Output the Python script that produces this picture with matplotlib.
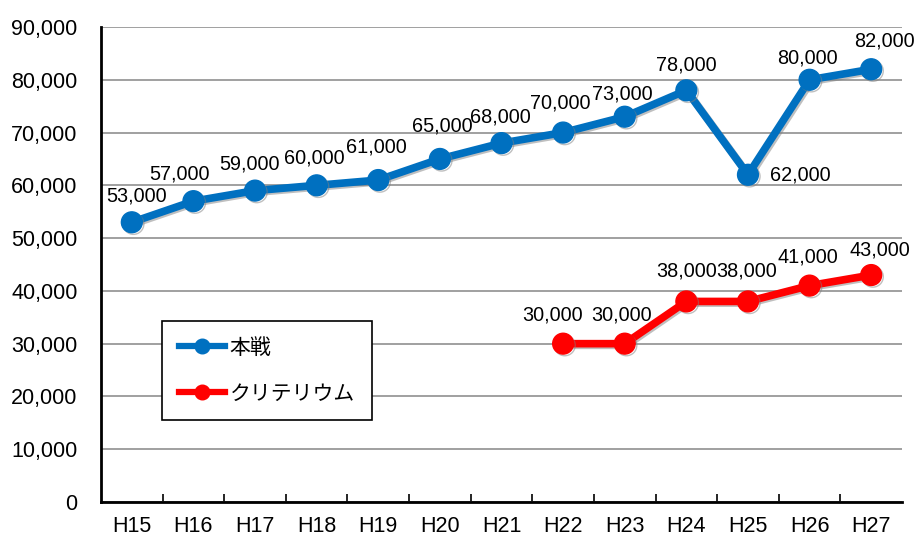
import matplotlib.pyplot as plt
import matplotlib.patheffects as pe
from matplotlib.ticker import FuncFormatter, MultipleLocator

# データ
years = ["H15", "H16", "H17", "H18", "H19", "H20", "H21", "H22", "H23", "H24", "H25", "H26", "H27"]
honsen = [53000, 57000, 59000, 60000, 61000, 65000, 68000, 70000, 73000, 78000, 62000, 80000, 82000]
crit_years = ["H22", "H23", "H24", "H25", "H26", "H27"]
criterium = [30000, 30000, 38000, 38000, 41000, 43000]

# ラベル位置 (pixels)
off_honsen = [(5, 26), (-14, 27), (-6, 27), (-2, 27), (-2, 33), (2, 33), (-1, 26),
              (-3, 30), (-2, 23), (0, 25), (52, 0), (-2, 22), (13, 28)]
off_crit = [(-11, 29), (-3, 29), (0, 30), (-1, 30), (-2, 29), (9, 25)]

blue = "#0070C0"
red = "#FF0000"

plt.rcParams['font.family'] = ['Liberation Sans', 'Noto Sans CJK JP', 'DejaVu Sans']

fig = plt.figure(figsize=(9.15, 5.41), dpi=100)
ax = fig.add_axes([101 / 915, 1 - 502 / 541, 801 / 915, 475 / 541])

x_all = list(range(len(years)))
x_crit = [years.index(y) for y in crit_years]

shadow = [pe.SimpleLineShadow(offset=(1.2, -1.2), shadow_color='gray', alpha=0.5), pe.Normal()]
l1, = ax.plot(x_all, honsen, color=blue, lw=5.5, marker='o', ms=15, label="本戦",
              path_effects=shadow, zorder=3)
l2, = ax.plot(x_crit, criterium, color=red, lw=5.5, marker='o', ms=15, label="クリテリウム",
              path_effects=shadow, zorder=3)

for x, v, (dx, dy) in zip(x_all, honsen, off_honsen):
    ax.annotate(f"{v:,}", (x, v), xytext=(dx, dy), textcoords='offset pixels',
                ha='center', va='center', fontsize=14.3)
for x, v, (dx, dy) in zip(x_crit, criterium, off_crit):
    ax.annotate(f"{v:,}", (x, v), xytext=(dx, dy), textcoords='offset pixels',
                ha='center', va='center', fontsize=14.3)

ax.set_xlim(-0.5, len(years) - 0.5)
ax.set_ylim(0, 90000)
ax.yaxis.set_major_locator(MultipleLocator(10000))
ax.yaxis.set_major_formatter(FuncFormatter(lambda v, p: f"{int(v):,}"))
ax.set_xticks(x_all)
ax.set_xticklabels(years)
ax.set_xticks([i + 0.5 for i in range(len(years) - 1)], minor=True)
ax.tick_params(axis='x', which='major', length=0, pad=10, labelsize=15.5)
ax.tick_params(axis='x', which='minor', direction='in', length=6, width=1.2)
ax.tick_params(axis='y', length=0, pad=17, labelsize=15.5)

ax.grid(axis='y', color='#909090', lw=1.2)
ax.set_axisbelow(True)
for s in ['top', 'right']:
    ax.spines[s].set_visible(False)
ax.spines['left'].set_linewidth(2)
ax.spines['bottom'].set_linewidth(2)

leg = ax.legend(handles=[l1, l2], loc='upper left', bbox_to_anchor=(162 / 915, 1 - 321 / 541),
                bbox_transform=fig.transFigure, borderaxespad=0, fancybox=False,
                edgecolor='black', framealpha=1, fontsize=15, handlelength=2.2,
                labelspacing=1.3, borderpad=0.8, handletextpad=0.25, markerscale=0.7)
leg.get_frame().set_linewidth(1.2)
for h in leg.legend_handles:
    h.set_path_effects([])
    h.set_linewidth(4.5)

fig.savefig("out.png", dpi=100)
